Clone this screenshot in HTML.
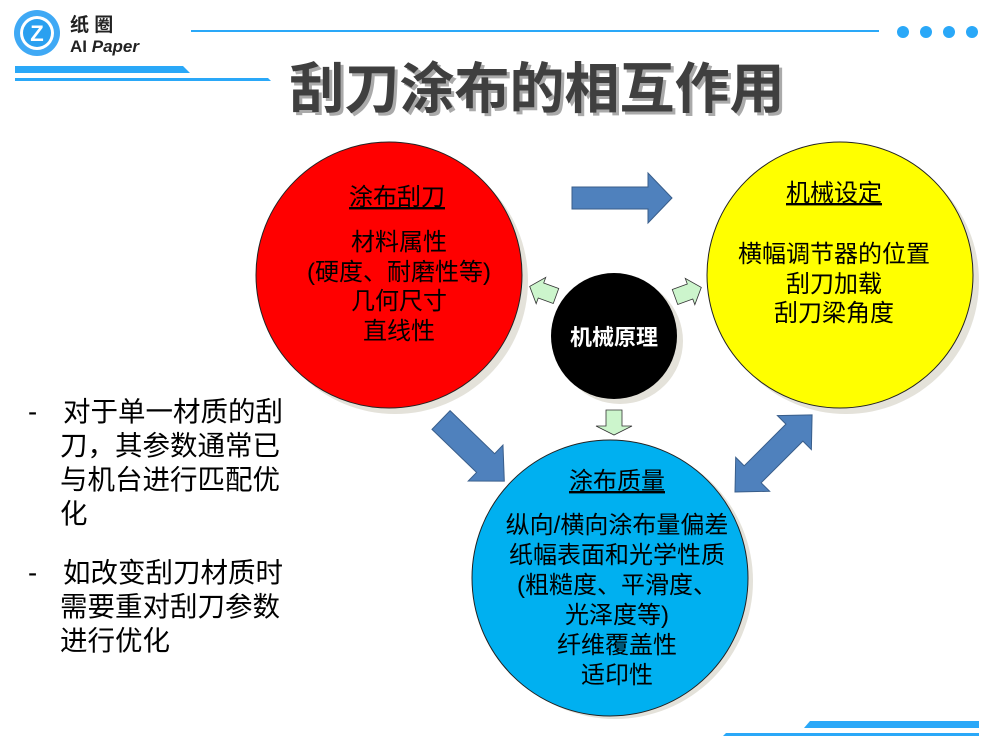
<!DOCTYPE html>
<html><head><meta charset="utf-8"><style>
body{margin:0;background:#fff;}
svg{display:block}
text{font-family:"Liberation Sans","Noto Sans CJK SC",sans-serif;}
</style></head><body>
<svg width="992" height="746" viewBox="0 0 992 746" xmlns="http://www.w3.org/2000/svg">
<!-- header -->
<circle cx="37" cy="33" r="23" fill="#3fa9f5"/>
<circle cx="37" cy="33" r="17" fill="#fff"/>
<circle cx="37" cy="33" r="14" fill="#2aa0f0"/>
<text x="37" y="41" font-size="22" font-weight="bold" fill="#fff" text-anchor="middle">Z</text>
<text x="70" y="31" font-size="19" font-weight="bold" fill="#222">纸 圈</text>
<text x="70" y="52" font-size="17" font-weight="bold" fill="#222" font-family="Liberation Serif">AI <tspan font-style="italic" font-family="Liberation Sans">Paper</tspan></text>
<rect x="191" y="30" width="688" height="2" fill="#2aa8f8"/>
<circle cx="903" cy="32" r="6" fill="#2aa8f8"/><circle cx="926" cy="32" r="6" fill="#2aa8f8"/><circle cx="949" cy="32" r="6" fill="#2aa8f8"/><circle cx="972" cy="32" r="6" fill="#2aa8f8"/>
<polygon points="15,66 183,66 190,73 15,73" fill="#2aa8f8"/>
<polygon points="15,78 268,78 271,81 15,81" fill="#2aa8f8"/>
<polygon points="810,721 979,721 979,728 804,728" fill="#2aa8f8"/>
<polygon points="726,733 979,733 979,736 723,736" fill="#2aa8f8"/>
<!-- title -->
<text x="540" y="111" font-size="55" font-weight="bold" fill="#aaa" text-anchor="middle">刮刀涂布的相互作用</text>
<text x="537" y="108" font-size="55" font-weight="bold" fill="#3f3f3f" text-anchor="middle">刮刀涂布的相互作用</text>
<!-- shadows -->
<circle cx="395" cy="281" r="133" fill="#e4e2da"/>
<circle cx="846" cy="281" r="133" fill="#e4e2da"/>
<circle cx="620" cy="341" r="63" fill="#e4e2da"/>
<circle cx="615" cy="581" r="138" fill="#e4e2da"/>
<!-- circles -->
<circle cx="389" cy="275" r="133" fill="#ff0000" stroke="#222" stroke-width="1"/>
<circle cx="840" cy="275" r="133" fill="#ffff00" stroke="#222" stroke-width="1"/>
<circle cx="610" cy="578" r="138" fill="#00b0f0" stroke="#222" stroke-width="1"/>
<circle cx="614" cy="336" r="63" fill="#000"/>
<!-- blue arrows -->
<polygon points="572,187 648,187 648,173 672,198 648,223 648,209 572,209" fill="#4f81bd" stroke="#385d8a"/>
<g transform="translate(441,420) rotate(44)">
<polygon points="0,-13 62,-13 62,-25 88,0 62,25 62,13 0,13" fill="#4f81bd" stroke="#385d8a"/>
</g>
<g transform="translate(735,492) rotate(-45)">
<polygon points="0,0 25,-24 25,-12 84,-12 84,-24 109,0 84,24 84,12 25,12 25,24" fill="#4f81bd" stroke="#385d8a"/>
</g>
<!-- green arrows -->
<g transform="translate(556,296) rotate(-160)">
<polygon points="0,-8 16,-8 16,-14 28,0 16,14 16,8 0,8" fill="#ccf5cc" stroke="#333" stroke-width="0.8"/>
</g>
<g transform="translate(675,297) rotate(-20)">
<polygon points="0,-8 16,-8 16,-14 28,0 16,14 16,8 0,8" fill="#ccf5cc" stroke="#333" stroke-width="0.8"/>
</g>
<g transform="translate(614,410) rotate(90)">
<polygon points="0,-8 16,-8 16,-18 25,0 16,18 16,8 0,8" fill="#ccf5cc" stroke="#333" stroke-width="0.8"/>
</g>
<!-- text in circles -->
<g font-size="24" fill="#000" text-anchor="middle">
<text x="397" y="205" text-decoration="underline">涂布刮刀</text>
<text x="399" y="250">材料属性</text>
<text x="399" y="280">(硬度、耐磨性等)</text>
<text x="399" y="309">几何尺寸</text>
<text x="399" y="339">直线性</text>
<text x="834" y="201" text-decoration="underline">机械设定</text>
<text x="834" y="262">横幅调节器的位置</text>
<text x="834" y="292">刮刀加载</text>
<text x="834" y="321">刮刀梁角度</text>
<text x="617" y="489" text-decoration="underline">涂布质量</text>
<text x="617" y="533">纵向/横向涂布量偏差</text>
<text x="617" y="563">纸幅表面和光学性质</text>
<text x="617" y="593">(粗糙度、平滑度、</text>
<text x="617" y="623">光泽度等)</text>
<text x="617" y="653">纤维覆盖性</text>
<text x="617" y="683">适印性</text>
</g>
<text x="614" y="345" font-size="22" font-weight="bold" fill="#fff" text-anchor="middle">机械原理</text>
<!-- left text -->
<g font-size="27.5" fill="#000">
<text x="28" y="421">-</text>
<text x="63" y="421">对于单一材质的刮</text>
<text x="60" y="455">刀，其参数通常已</text>
<text x="60" y="489">与机台进行匹配优</text>
<text x="60" y="523">化</text>
<text x="28" y="582">-</text>
<text x="63" y="582">如改变刮刀材质时</text>
<text x="60" y="616">需要重对刮刀参数</text>
<text x="60" y="650">进行优化</text>
</g>
</svg>
</body></html>
